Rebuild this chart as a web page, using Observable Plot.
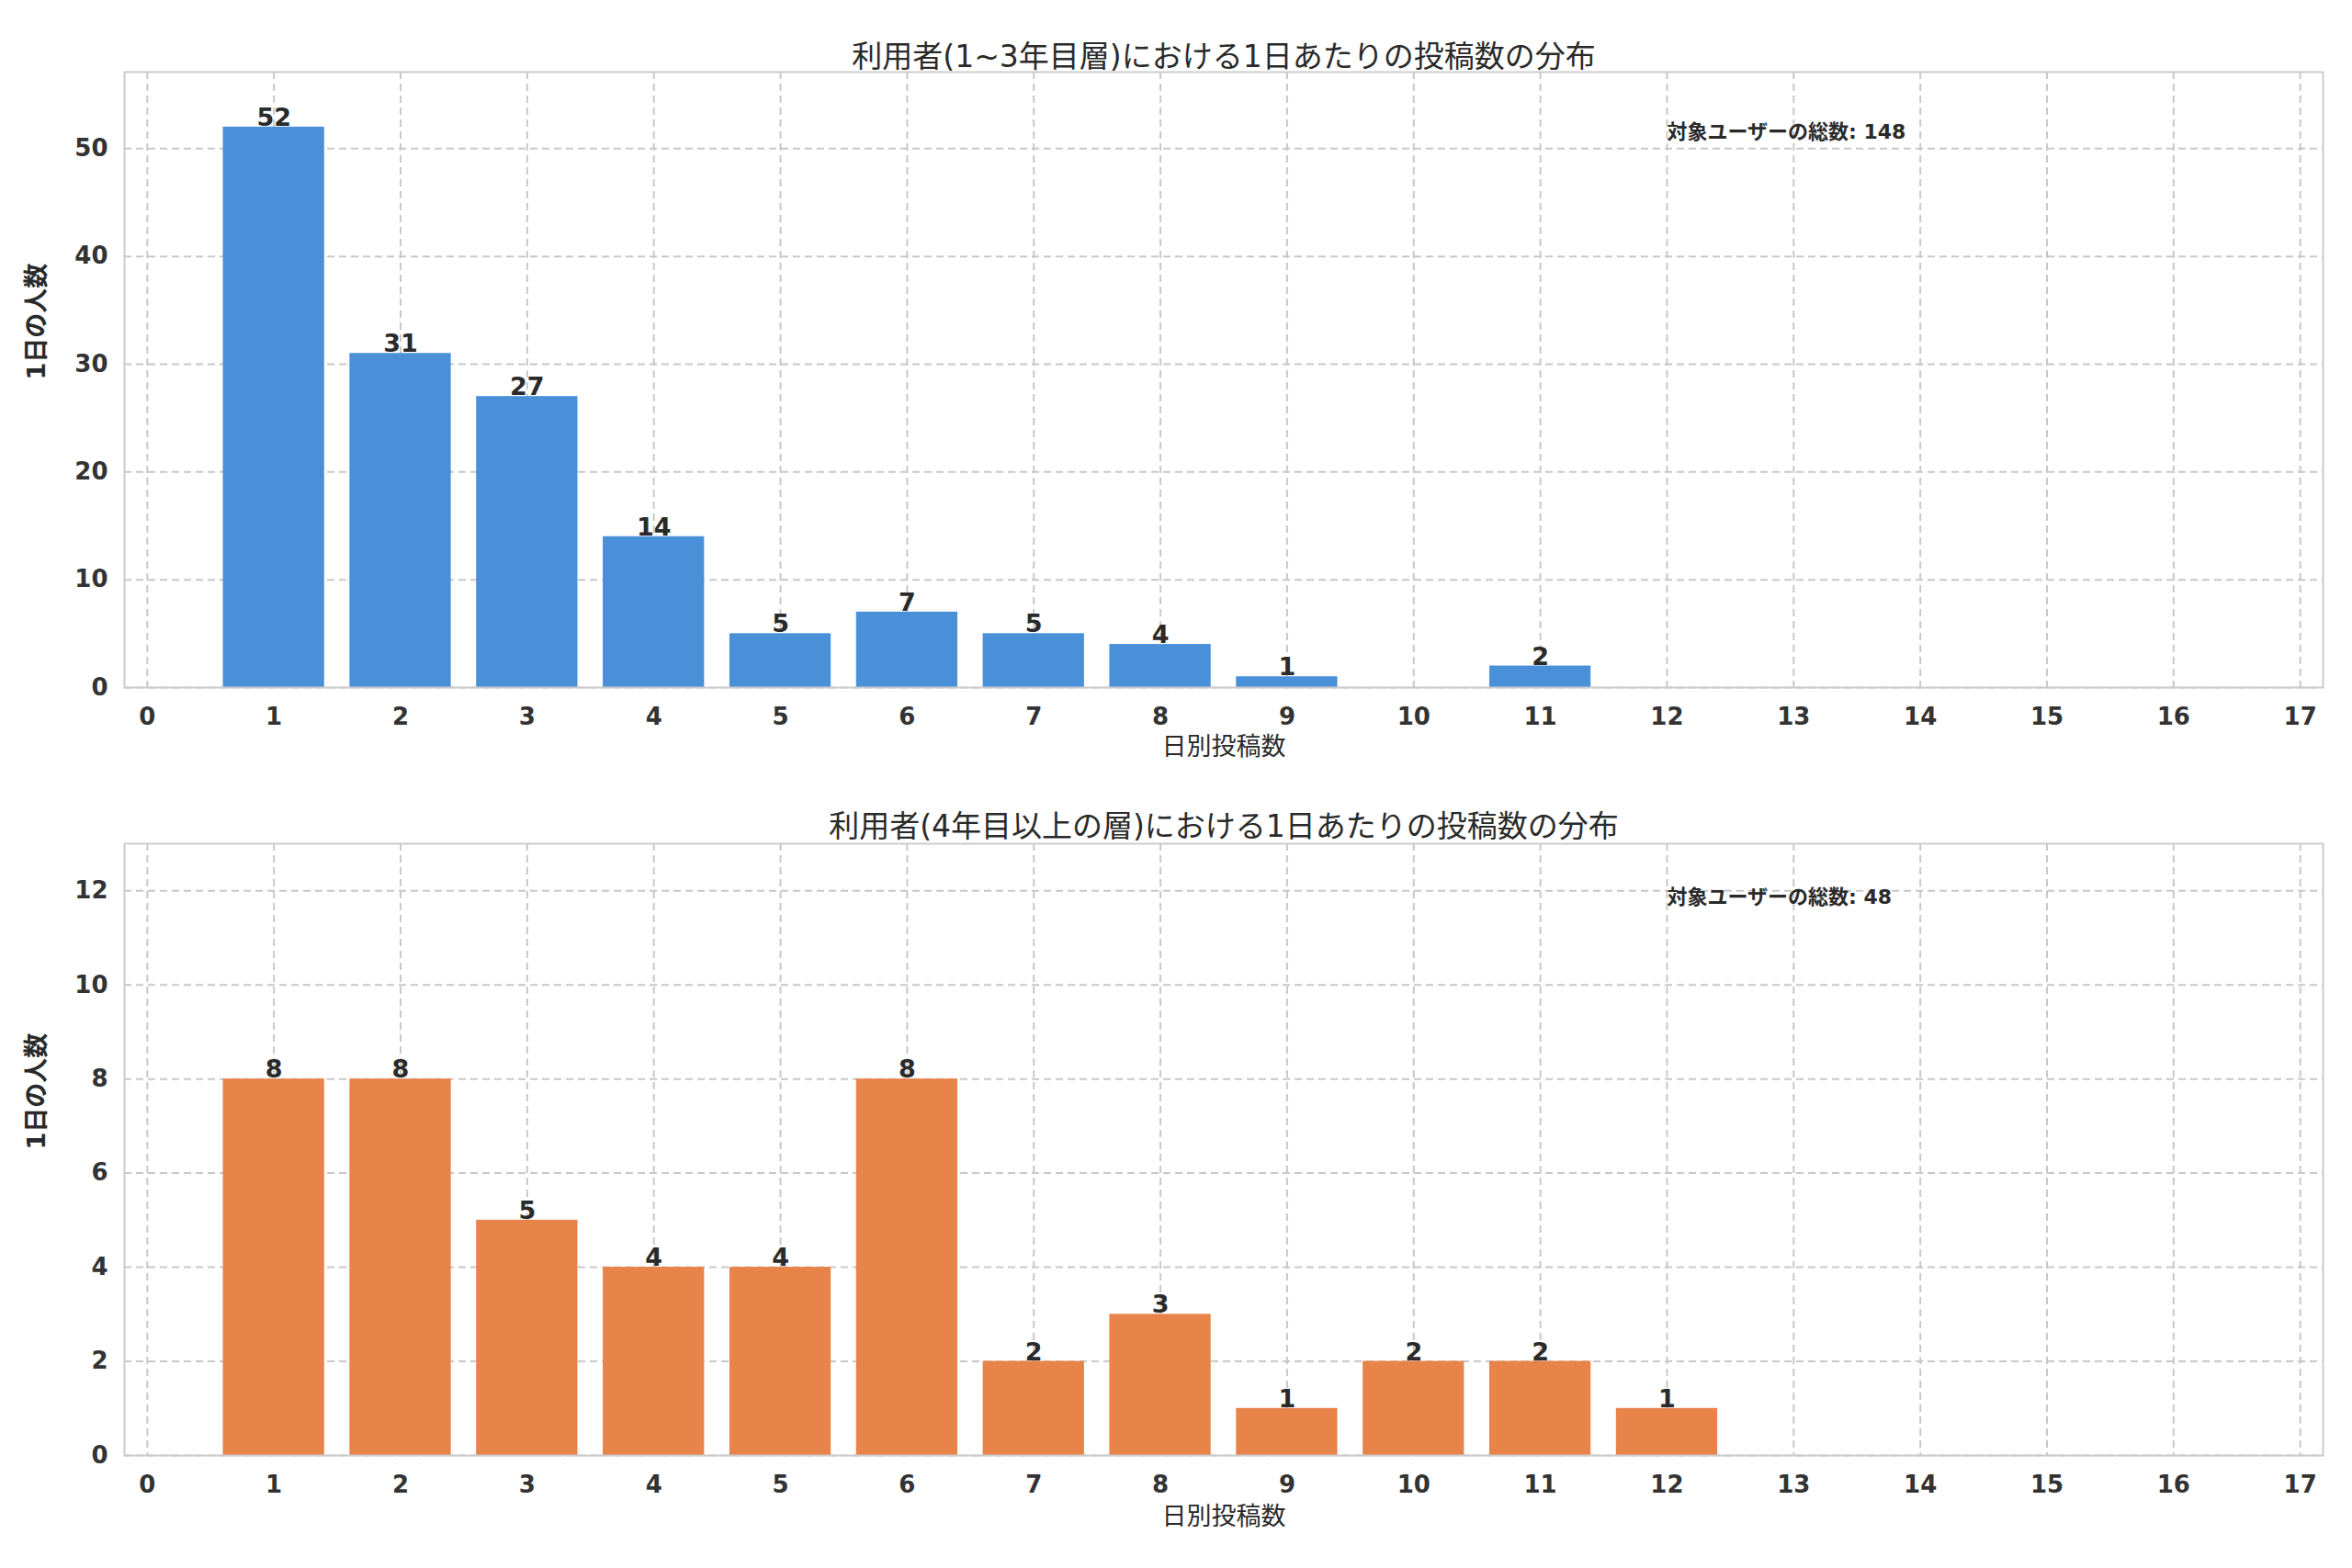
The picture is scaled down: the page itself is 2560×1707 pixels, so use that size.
<!DOCTYPE html>
<html><head><meta charset="utf-8">
<script src="https://cdn.jsdelivr.net/npm/d3@7"></script>
<script src="https://cdn.jsdelivr.net/npm/@observablehq/plot@0.6"></script>
<style>
body{margin:0;background:#fff;font-family:"DejaVu Sans","Noto Sans CJK JP",sans-serif;}
#wrap{position:relative;width:2560px;height:1707px;}
#wrap svg{position:absolute;left:0;}
</style></head><body><div id="wrap"></div>
<script>
const topCounts = [1,2,3,4,5,6,7,8,9,11];
const topValues = [52,31,27,14,5,7,5,4,1,2];
const botCounts = [1,2,3,4,5,6,7,8,9,10,11,12];
const botValues = [8,8,5,4,4,8,2,3,1,2,2,1];
const xTicks = d3.range(0,18);
const titles = ["利用者(1~3年目層)における1日あたりの投稿数の分布","利用者(4年目以上の層)における1日あたりの投稿数の分布"];
const totals = ["対象ユーザーの総数: 148","対象ユーザーの総数: 48"];
const xLabel = "日別投稿数", yLabel = "1日の人数";
const fam = '"DejaVu Sans","Noto Sans CJK JP",sans-serif';

function panel(counts, values, color, yMax, yTicks, title, total, totY, cfg){
  const data = counts.map((k,i)=>({k, v: values[i]}));
  const p = Plot.plot({
    width:2560, height:cfg.h, marginTop:cfg.mt, marginBottom:cfg.mb, marginLeft:135, marginRight:32,
    style:{fontFamily:fam, fontSize:"26px", fontWeight:"bold", color:"#333", background:"white"},
    x:{domain:[-0.18,17.18], ticks:xTicks, tickFormat:d=>d, label:null, tickSize:0, tickPadding:22},
    y:{domain:[0,yMax], ticks:yTicks, label:null, tickSize:0, tickPadding:18},
    marks:[
      Plot.gridX(xTicks,{stroke:"#c8c8c8", strokeOpacity:1, strokeDasharray:"8,5", strokeWidth:2}),
      Plot.gridY(yTicks,{stroke:"#c8c8c8", strokeOpacity:1, strokeDasharray:"8,5", strokeWidth:2}),
      Plot.rectY(data,{x1:d=>d.k-0.4, x2:d=>d.k+0.4, y:"v", fill:color}),
      Plot.text(data,{x:"k", y:"v", text:d=>String(d.v), dy:-10, fontSize:27, fontWeight:"bold", fill:"#2a2a2a"}),
      Plot.text([total],{x:12, y:totY, text:d=>d, textAnchor:"start", fontSize:22, fontWeight:"bold", fill:"#2a2a2a"}),
      Plot.frame({stroke:"#cccccc", strokeWidth:2}),
      Plot.text([title],{frameAnchor:"top", dy:cfg.tdy, fontSize:33, fontWeight:"normal", fill:"#2a2a2a"}),
      Plot.text([xLabel],{frameAnchor:"bottom", dy:cfg.xdy, fontSize:27, fontWeight:"normal", fill:"#2a2a2a"}),
      Plot.text([yLabel],{frameAnchor:"left", dx:-95, rotate:-90, fontSize:27, fontWeight:"bold", fill:"#2a2a2a"})
    ]
  });
  p.style.top = cfg.top+"px";
  p.style.overflow = "visible";
  return p;
}
const w = document.getElementById("wrap");
w.appendChild(panel(topCounts, topValues, "#4A90D9", 57.1, [0,10,20,30,40,50], titles[0], totals[0], 51.5,
  {h:850, mt:78, mb:102, top:0, tdy:-29, xdy:73}));
w.appendChild(panel(botCounts, botValues, "#E8834A", 13.0, [0,2,4,6,8,10,12], titles[1], totals[1], 11.85,
  {h:857, mt:68, mb:123, top:850, tdy:-31, xdy:75}));
</script></body></html>
